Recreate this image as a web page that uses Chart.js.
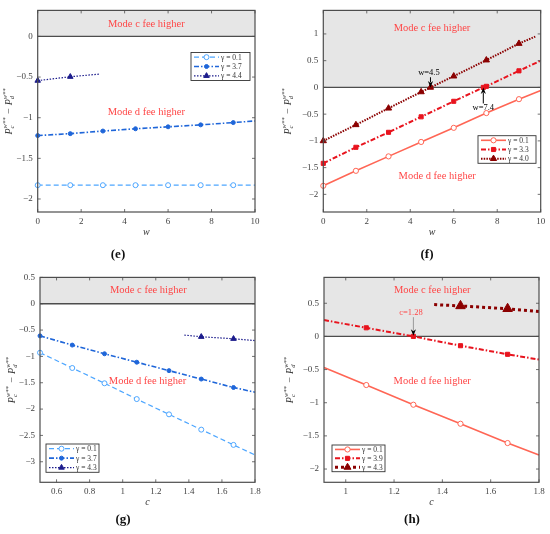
<!DOCTYPE html>
<html>
<head>
<meta charset="utf-8">
<script src="https://cdn.jsdelivr.net/npm/chart.js@4.4.1/dist/chart.umd.min.js"></script>
<style>
  html, body { margin: 0; padding: 0; background: #fff; }
  #wrap { position: relative; width: 550px; height: 534px; }
  .pane { position: absolute; width: 275px; height: 267px; }
</style>
</head>
<body>
<div id="wrap">
  <div class="pane" style="left:0;top:0"><canvas id="pe"></canvas></div>
  <div class="pane" style="left:275px;top:0"><canvas id="pf"></canvas></div>
  <div class="pane" style="left:0;top:267px"><canvas id="pg"></canvas></div>
  <div class="pane" style="left:275px;top:267px"><canvas id="ph"></canvas></div>
</div>
<script>
(function () {
  "use strict";

  // (e) difference vs w
  var wE = [0, 1.5, 3, 4.5, 6, 7.5, 9, 10];
  var e01 = [-1.83, -1.83, -1.83, -1.83, -1.83, -1.83, -1.83, -1.83];
  var e37 = [-1.22, -1.196, -1.164, -1.136, -1.112, -1.088, -1.06, -1.04];
  var wE44 = [0, 1.5, 2.82];
  var e44 = [-0.544, -0.496, -0.464];

  // (f) difference vs w
  var wF = [0, 1.5, 3, 4.5, 6, 7.5, 9, 10];
  var f01 = [-1.84, -1.56, -1.29, -1.02, -0.756, -0.48, -0.22, -0.06];
  var wF33 = [0, 1.5, 3, 4.5, 6, 7.36, 7.5, 9, 10];
  var f33 = [-1.42, -1.12, -0.84, -0.55, -0.26, 0, 0.02, 0.31, 0.5];
  var wF40 = [0, 1.5, 3, 4.5, 4.93, 6, 7.5, 9, 9.75];
  var f40 = [-1.0, -0.7, -0.39, -0.085, 0, 0.21, 0.51, 0.82, 0.95];

  // (g) difference vs c
  var cG = [0.5, 0.695, 0.89, 1.085, 1.28, 1.475, 1.67, 1.8];
  var g01 = [-0.93, -1.22, -1.51, -1.81, -2.1, -2.39, -2.68, -2.87];
  var g37 = [-0.61, -0.785, -0.95, -1.11, -1.27, -1.43, -1.59, -1.68];
  var cG43 = [1.373, 1.475, 1.67, 1.8];
  var g43 = [-0.595, -0.627, -0.665, -0.7];

  // (h) difference vs c
  var cH = [0.91, 1.085, 1.28, 1.475, 1.67, 1.8];
  var h01 = [-0.47, -0.733, -1.03, -1.317, -1.608, -1.79];
  var h39 = [0.246, 0.13, 0.0, -0.14, -0.27, -0.35];
  var cH43 = [1.366, 1.475, 1.67, 1.8];
  var h43 = [0.48, 0.46, 0.417, 0.377];

  var SERIF = '"Liberation Serif", "DejaVu Serif", serif';
  var EDGE = "#4d4d4d";
  var RED_TXT = "#ff4646";

  var S = {
    b01: { label: "\u03b3 = 0.1", color: "#4da6ff", width: 1.2, dash: [5, 3], marker: "circle", size: 2.5, open: true },
    b37: { label: "\u03b3 = 3.7", color: "#1f66d9", width: 1.6, dash: [5, 2, 1.5, 2], marker: "circle", size: 2, open: false },
    b44: { label: "\u03b3 = 4.4", color: "#1c1c8c", width: 1.2, dash: [1.5, 1.5], marker: "triangle", size: 3.2, open: false },
    b43: { label: "\u03b3 = 4.3", color: "#1c1c8c", width: 1.2, dash: [1.5, 1.5], marker: "triangle", size: 3.2, open: false },
    r01: { label: "\u03b3 = 0.1", color: "#ff6655", width: 1.6, dash: [], marker: "circle", size: 2.6, open: true },
    r33: { label: "\u03b3 = 3.3", color: "#e8141e", width: 2, dash: [5, 2, 1.5, 2], marker: "rect", size: 2.9, open: false },
    r39: { label: "\u03b3 = 3.9", color: "#e8141e", width: 2, dash: [5, 2, 1.5, 2], marker: "rect", size: 2.9, open: false },
    r40: { label: "\u03b3 = 4.0", color: "#8b0000", width: 2, dash: [1.5, 1.2], marker: "triangle", size: 3.6, open: false },
    r43: { label: "\u03b3 = 4.3", color: "#8b0000", width: 3, dash: [3, 3], marker: "triangle", size: 5.5, open: false }
  };

  var PANELS = {
    pe: {
      mode: { c: [5.0, 0.15], d: [5.0, -0.93] },
      legend: { x: 191, y: 52.5, w: 59, h: 28, items: [S.b01, S.b37, S.b44] },
      xTitle: "w", tag: "(e)", tagX: 118, tagY: 255, yTitleX: 9, notes: []
    },
    pf: {
      mode: { c: [5.0, 1.11], d: [5.24, -1.66] },
      legend: { x: 203, y: 135.7, w: 58, h: 27.6, items: [S.r01, S.r33, S.r40] },
      xTitle: "w", tag: "(f)", tagX: 152, tagY: 255, yTitleX: 13,
      notes: [
        { text: "w=4.5", tx: 4.86, ty: 0.27, ax: 4.93, ay0: 0.19, ay1: 0.0, color: "#000", shaft: "#000" },
        { text: "w=7.4", tx: 7.36, ty: -0.38, ax: 7.36, ay0: -0.3, ay1: 0.0, color: "#000", shaft: "#000" }
      ]
    },
    pg: {
      mode: { c: [1.155, 0.25], d: [1.15, -1.47] },
      legend: { x: 46, y: 177, w: 53, h: 28.3, items: [S.b01, S.b37, S.b43] },
      xTitle: "c", tag: "(g)", tagX: 123, tagY: 253, yTitleX: 12, notes: []
    },
    ph: {
      mode: { c: [1.358, 0.69], d: [1.358, -0.67] },
      legend: { x: 57, y: 178, w: 53, h: 26.7, items: [S.r01, S.r39, S.r43] },
      xTitle: "c", tag: "(h)", tagX: 137, tagY: 253, yTitleX: 15,
      notes: [
        { text: "c=1.28", tx: 1.27, ty: 0.356, ax: 1.28, ay0: 0.29, ay1: 0.01, color: RED_TXT, shaft: "#999" }
      ]
    }
  };

  function fmt(v) {
    var s = String(Math.round(v * 100) / 100);
    return s.replace("-", "\u2212");
  }

  function series(xs, ys, st, bareStart) {
    return {
      label: st.label,
      data: xs.map(function (x, i) { return { x: x, y: ys[i] }; }),
      borderColor: st.color,
      borderWidth: st.width,
      borderDash: st.dash,
      pointStyle: st.marker,
      pointRadius: function (ctx) {
        var n = ctx.dataset.data.length;
        if (ctx.dataIndex === n - 1 || (bareStart && ctx.dataIndex === 0)) return 0;
        return st.size;
      },
      pointHoverRadius: 0,
      pointBackgroundColor: st.open ? "#fff" : st.color,
      pointBorderColor: st.color,
      pointBorderWidth: 1,
      fill: false,
      tension: 0,
      clip: 6
    };
  }

  function arrow(ctx, x, y0, y1, shaft, head) {
    var dir = y1 > y0 ? 1 : -1;
    ctx.save();
    ctx.strokeStyle = shaft;
    ctx.lineWidth = 1;
    ctx.beginPath();
    ctx.moveTo(x, y0);
    ctx.lineTo(x, y1 - dir * 5);
    ctx.stroke();
    ctx.fillStyle = head;
    ctx.beginPath();
    ctx.moveTo(x, y1);
    ctx.lineTo(x - 2.6, y1 - dir * 6.5);
    ctx.lineTo(x, y1 - dir * 4.5);
    ctx.lineTo(x + 2.6, y1 - dir * 6.5);
    ctx.closePath();
    ctx.fill();
    ctx.restore();
  }

  function drawYTitle(ctx, cx, cy) {
    var big = "italic 10px " + SERIF;
    var small = "italic 6.5px " + SERIF;
    var parts = [
      { t: "P", sup: "w**", sub: "c" },
      { t: " \u2212 " },
      { t: "P", sup: "w**", sub: "d" }
    ];
    ctx.save();
    ctx.translate(cx, cy);
    ctx.rotate(-Math.PI / 2);
    ctx.fillStyle = "#333";
    ctx.textBaseline = "middle";
    ctx.textAlign = "left";
    var total = 0;
    parts.forEach(function (p) {
      ctx.font = big;
      p.w = ctx.measureText(p.t).width;
      p.sw = 0;
      if (p.sup) {
        ctx.font = small;
        p.sw = Math.max(ctx.measureText(p.sup).width, ctx.measureText(p.sub).width) + 0.5;
      }
      total += p.w + p.sw;
    });
    var x = -total / 2;
    parts.forEach(function (p) {
      ctx.font = big;
      ctx.fillText(p.t, x, 0);
      x += p.w;
      if (p.sup) {
        ctx.font = small;
        ctx.fillText(p.sup, x, -4);
        ctx.fillText(p.sub, x, 3.5);
        x += p.sw;
      }
    });
    ctx.restore();
  }

  function drawLegend(ctx, box) {
    var items = box.items;
    ctx.save();
    ctx.fillStyle = "#fff";
    ctx.fillRect(box.x, box.y, box.w, box.h);
    ctx.strokeStyle = "#333";
    ctx.lineWidth = 0.9;
    ctx.strokeRect(box.x, box.y, box.w, box.h);
    var rowH = box.h / items.length;
    items.forEach(function (st, i) {
      var y = box.y + rowH * (i + 0.5);
      var x0 = box.x + 3, x1 = box.x + 28;
      ctx.strokeStyle = st.color;
      ctx.lineWidth = st.width;
      ctx.setLineDash(st.dash);
      ctx.beginPath();
      ctx.moveTo(x0, y);
      ctx.lineTo(x1, y);
      ctx.stroke();
      ctx.setLineDash([]);
      ctx.lineWidth = 1;
      ctx.fillStyle = st.open ? "#fff" : st.color;
      Chart.helpers.drawPoint(ctx, { pointStyle: st.marker, radius: Math.min(st.size, 4), rotation: 0, borderWidth: 1 }, (x0 + x1) / 2, y);
      ctx.fillStyle = "#333";
      ctx.font = "7.5px " + SERIF;
      ctx.textAlign = "left";
      ctx.textBaseline = "middle";
      ctx.fillText(st.label, x1 + 2, y + 0.5);
    });
    ctx.restore();
  }

  var decor = {
    id: "decor",
    beforeDatasetsDraw: function (chart) {
      var a = chart.chartArea, ctx = chart.ctx, y = chart.scales.y;
      var y0 = y.getPixelForValue(0);
      ctx.save();
      ctx.fillStyle = "#e6e6e6";
      ctx.fillRect(a.left, a.top, a.right - a.left, y0 - a.top);
      ctx.strokeStyle = EDGE;
      ctx.lineWidth = 1.3;
      ctx.beginPath();
      ctx.moveTo(a.left, y0);
      ctx.lineTo(a.right, y0);
      ctx.stroke();
      ctx.restore();
    },
    afterDatasetsDraw: function (chart) {
      var cfg = PANELS[chart.canvas.id];
      var a = chart.chartArea, ctx = chart.ctx;
      var xs = chart.scales.x, ys = chart.scales.y;
      ctx.save();

      // plot box with inward ticks on all sides
      ctx.strokeStyle = EDGE;
      ctx.lineWidth = 1.2;
      ctx.strokeRect(a.left, a.top, a.right - a.left, a.bottom - a.top);
      ctx.lineWidth = 0.8;
      ctx.beginPath();
      xs.ticks.forEach(function (t) {
        var px = xs.getPixelForValue(t.value);
        ctx.moveTo(px, a.bottom); ctx.lineTo(px, a.bottom - 3);
        ctx.moveTo(px, a.top); ctx.lineTo(px, a.top + 3);
      });
      ys.ticks.forEach(function (t) {
        var py = ys.getPixelForValue(t.value);
        ctx.moveTo(a.left, py); ctx.lineTo(a.left + 3, py);
        ctx.moveTo(a.right, py); ctx.lineTo(a.right - 3, py);
      });
      ctx.stroke();

      // region labels
      ctx.font = "10.5px " + SERIF;
      ctx.fillStyle = RED_TXT;
      ctx.textAlign = "center";
      ctx.textBaseline = "middle";
      ctx.fillText("Mode c fee higher", xs.getPixelForValue(cfg.mode.c[0]), ys.getPixelForValue(cfg.mode.c[1]));
      ctx.fillText("Mode d fee higher", xs.getPixelForValue(cfg.mode.d[0]), ys.getPixelForValue(cfg.mode.d[1]));

      // crossing notes
      cfg.notes.forEach(function (n) {
        ctx.font = "8.5px " + SERIF;
        ctx.fillStyle = n.color;
        ctx.fillText(n.text, xs.getPixelForValue(n.tx), ys.getPixelForValue(n.ty));
        arrow(ctx, xs.getPixelForValue(n.ax), ys.getPixelForValue(n.ay0), ys.getPixelForValue(n.ay1), n.shaft, "#000");
      });

      drawLegend(ctx, cfg.legend);

      // axis titles and panel tag
      ctx.fillStyle = "#333";
      ctx.font = "italic 10px " + SERIF;
      ctx.textAlign = "center";
      ctx.fillText(cfg.xTitle, (a.left + a.right) / 2, a.bottom + 20);
      drawYTitle(ctx, cfg.yTitleX, (a.top + a.bottom) / 2);
      ctx.fillStyle = "#111";
      ctx.font = "bold 13px " + SERIF;
      ctx.fillText(cfg.tag, cfg.tagX, cfg.tagY);
      ctx.restore();
    }
  };

  function axes(xMin, xMax, xStep, yMin, yMax, yStep, yWidth) {
    var tickFont = { family: SERIF, size: 9 };
    return {
      x: {
        type: "linear", min: xMin, max: xMax,
        ticks: { stepSize: xStep, includeBounds: false, padding: 4, color: "#444", font: tickFont, maxRotation: 0, autoSkip: false, callback: fmt },
        grid: { display: false, drawTicks: false },
        border: { display: false },
        afterFit: function (s) { s.height = 20; }
      },
      y: {
        type: "linear", min: yMin, max: yMax,
        ticks: { stepSize: yStep, includeBounds: false, padding: 5, color: "#444", font: tickFont, autoSkip: false, callback: fmt },
        grid: { display: false, drawTicks: false },
        border: { display: false },
        afterFit: function (s) { s.width = yWidth; }
      }
    };
  }

  function mkPanel(id, datasets, scales, padding) {
    return new Chart(document.getElementById(id), {
      type: "line",
      data: { datasets: datasets },
      options: {
        responsive: true,
        maintainAspectRatio: false,
        animation: false,
        layout: { padding: padding },
        plugins: { legend: { display: false }, tooltip: { enabled: false } },
        scales: scales
      },
      plugins: [decor]
    });
  }

  mkPanel("pe", [
    series(wE, e01, S.b01, false),
    series(wE, e37, S.b37, false),
    series(wE44, e44, S.b44, false)
  ], axes(0, 10, 2, -2.16, 0.32, 0.5, 37.7), { left: 0, right: 20, top: 5.7, bottom: 35 });

  mkPanel("pf", [
    series(wF, f01, S.r01, false),
    series(wF33, f33, S.r33, false),
    series(wF40, f40, S.r40, false)
  ], axes(0, 10, 2, -2.33, 1.44, 0.5, 48.3), { left: 0, right: 9.3, top: 5.7, bottom: 35 });

  mkPanel("pg", [
    series(cG, g01, S.b01, false),
    series(cG, g37, S.b37, false),
    series(cG43, g43, S.b43, true)
  ], axes(0.5, 1.8, 0.2, -3.39, 0.5, 0.5, 40), { left: 0, right: 20, top: 10.3, bottom: 31.7 });

  mkPanel("ph", [
    series(cH, h01, S.r01, true),
    series(cH, h39, S.r39, true),
    series(cH43, h43, S.r43, true)
  ], axes(0.91, 1.8, 0.2, -2.2, 0.89, 0.5, 49), { left: 0, right: 11, top: 10.3, bottom: 31.7 });
})();
</script>
</body>
</html>
